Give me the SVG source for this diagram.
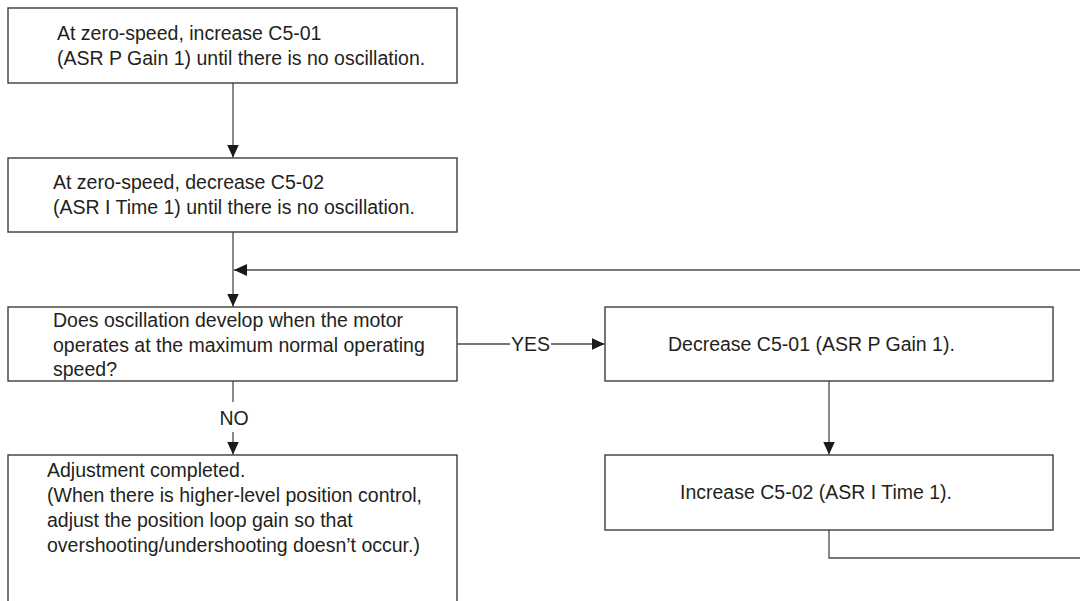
<svg xmlns="http://www.w3.org/2000/svg" width="1080" height="601" viewBox="0 0 1080 601">
<style>
.box{fill:#fff;stroke:#3c3c3c;stroke-width:1.4}
.t{font-family:"Liberation Sans",Arial,sans-serif;font-size:19.5px;fill:#231f20}
.c{fill:none;stroke:#4a4a4a;stroke-width:1.3}
</style>
<defs>
<marker id="ah" viewBox="0 0 13 12" refX="13" refY="6" markerWidth="13" markerHeight="12" markerUnits="userSpaceOnUse" orient="auto">
<path d="M0,0 L13,6 L0,12 Z" fill="#1a1a1a"/>
</marker>
</defs>
<rect width="1080" height="601" fill="#fff"/>
<g id="connectors">
<line class="c" x1="233" y1="83" x2="233" y2="157.5" marker-end="url(#ah)"/>
<line class="c" x1="233" y1="232" x2="233" y2="306.5" marker-end="url(#ah)"/>
<line class="c" x1="1080" y1="270" x2="234" y2="270" marker-end="url(#ah)"/>
<line class="c" x1="233" y1="381" x2="233" y2="402"/>
<text class="t" x="234" y="425" text-anchor="middle">NO</text>
<line class="c" x1="233" y1="432" x2="233" y2="454.5" marker-end="url(#ah)"/>
<line class="c" x1="457" y1="344" x2="510" y2="344"/>
<text class="t" x="530.5" y="351" text-anchor="middle">YES</text>
<line class="c" x1="551" y1="344" x2="604.5" y2="344" marker-end="url(#ah)"/>
<line class="c" x1="829" y1="381" x2="829" y2="454.5" marker-end="url(#ah)"/>
<polyline class="c" points="829,530 829,558 1080,558"/>
</g>
<g id="n1">
<rect class="box" x="8" y="8" width="449" height="75"/>
<text class="t" x="57" y="40">At zero-speed, increase C5-01</text>
<text class="t" x="57" y="65">(ASR P Gain 1) until there is no oscillation.</text>
</g>
<g id="n2">
<rect class="box" x="8" y="158" width="449" height="74"/>
<text class="t" x="53" y="189">At zero-speed, decrease C5-02</text>
<text class="t" x="53" y="214">(ASR I Time 1) until there is no oscillation.</text>
</g>
<g id="n3">
<rect class="box" x="8" y="307" width="449" height="74"/>
<text class="t" x="53" y="327">Does oscillation develop when the motor</text>
<text class="t" x="53" y="351.5">operates at the maximum normal operating</text>
<text class="t" x="53" y="376">speed?</text>
</g>
<g id="n4">
<rect class="box" x="8" y="455" width="449" height="160"/>
<text class="t" x="47" y="477">Adjustment completed.</text>
<text class="t" x="47" y="502">(When there is higher-level position control,</text>
<text class="t" x="47" y="527">adjust the position loop gain so that</text>
<text class="t" x="47" y="552">overshooting/undershooting doesn’t occur.)</text>
</g>
<g id="n5">
<rect class="box" x="605" y="307" width="448" height="74"/>
<text class="t" x="668" y="351">Decrease C5-01 (ASR P Gain 1).</text>
</g>
<g id="n6">
<rect class="box" x="605" y="455" width="448" height="75"/>
<text class="t" x="680" y="499">Increase C5-02 (ASR I Time 1).</text>
</g>
</svg>
